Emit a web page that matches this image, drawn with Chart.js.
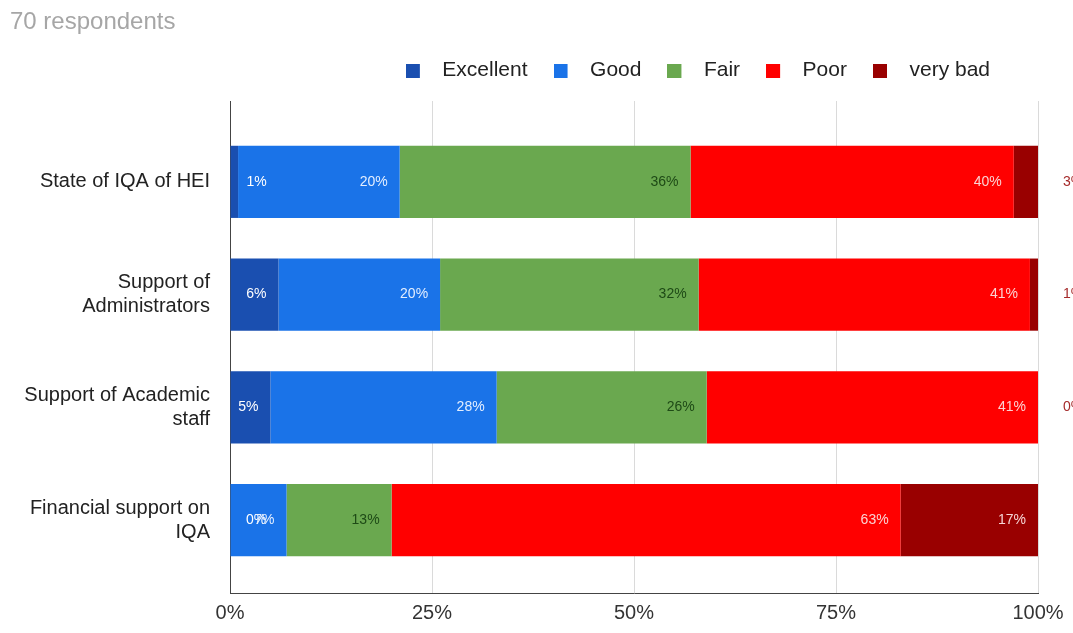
<!DOCTYPE html>
<html>
<head>
<meta charset="utf-8">
<script src="https://cdn.jsdelivr.net/npm/chart.js@4.4.1/dist/chart.umd.min.js"></script>
<style>
  html, body { margin: 0; padding: 0; background: #fff; }
  #wrap { width: 1073px; height: 633px; }
</style>
</head>
<body>
<div id="wrap"><canvas id="grafico"></canvas></div>
<script>
/* ===================== DADOS ===================== */
const titulo = '70 respondents';
const categorias = [
  ['State of IQA of HEI'],
  ['Support of', 'Administrators'],
  ['Support of Academic', 'staff'],
  ['Financial support on', 'IQA']
];
const series = ['Excellent', 'Good', 'Fair', 'Poor', 'very bad'];
const excellent = [1, 6, 5, 0];
const good      = [20, 20, 28, 7];
const fair      = [36, 32, 26, 13];
const poor      = [40, 41, 41, 63];
const veryBad   = [3, 1, 0, 17];
const xTicks    = [0, 25, 50, 75, 100];

/* ===================== ESTILO ===================== */
const FONTE = '"Liberation Sans", Arial, sans-serif';
const cores = ['#1a4fb0', '#1a73e8', '#6aa84f', '#ff0000', '#990000'];
const corRotulo = ['#ffffff', '#e3eeff', '#1e4a16', '#fbd3d3', '#f6d6d6'];
const valores = [excellent, good, fair, poor, veryBad];

// quadradinho da legenda com espaço extra à direita
function amostra(cor) {
  const c = document.createElement('canvas');
  c.width = 26; c.height = 14;
  const g = c.getContext('2d');
  g.fillStyle = cor;
  g.fillRect(0, 0, 14, 14);
  return c;
}
const amostras = cores.map(amostra);

/* ===================== RÓTULOS ===================== */
const rotulos = {
  id: 'rotulos',
  afterDatasetsDraw(chart) {
    const ctx = chart.ctx;
    const ultimo = chart.data.datasets.length - 1;
    ctx.save();
    ctx.font = '14px ' + FONTE;
    ctx.textBaseline = 'middle';
    chart.data.datasets.forEach((ds, di) => {
      const meta = chart.getDatasetMeta(di);
      meta.data.forEach((bar, i) => {
        const txt = ds.data[i].x + '%';
        const w = ctx.measureText(txt).width;
        const ini = Math.min(bar.base, bar.x);
        const fim = Math.max(bar.base, bar.x);
        let x, align = 'right', cor = corRotulo[di];
        if (fim - ini >= w + 16) {
          x = fim - 12;
        } else if (di === ultimo) {
          x = fim + 25; align = 'left'; cor = '#a52a2a';
        } else {
          x = ini + 16; align = 'left';
        }
        ctx.textAlign = align;
        ctx.fillStyle = cor;
        ctx.fillText(txt, x, bar.y);
      });
    });
    ctx.restore();
  }
};

// legenda um pouco mais à esquerda, como no original
const ajusteLegenda = {
  id: 'ajusteLegenda',
  afterLayout(chart) { chart.legend.right -= 22; }
};

/* ===================== GRÁFICO ===================== */
new Chart(document.getElementById('grafico'), {
  type: 'bar',
  data: {
    datasets: series.map((nome, k) => ({
      label: nome,
      data: categorias.map((_, i) => ({ x: valores[k][i], y: i })),
      backgroundColor: cores[k],
      borderWidth: 0,
      categoryPercentage: 0.8,
      barPercentage: 0.8
    }))
  },
  options: {
    indexAxis: 'y',
    responsive: true,
    maintainAspectRatio: false,
    animation: false,
    layout: { padding: { left: 10, right: 35, top: 0, bottom: 0 } },
    plugins: {
      title: {
        display: true,
        text: titulo,
        align: 'start',
        color: '#a6a6a6',
        font: { family: FONTE, size: 24, weight: 'normal', lineHeight: 1 },
        padding: { top: 10, bottom: 0 }
      },
      legend: {
        position: 'top',
        align: 'end',
        labels: {
          usePointStyle: true,
          pointStyleWidth: 26,
          color: '#222',
          font: { family: FONTE, size: 21 },
          padding: 26,
          generateLabels: chart =>
            Chart.defaults.plugins.legend.labels.generateLabels(chart)
              .map((l, i) => ({ ...l, pointStyle: amostras[i] }))
        }
      },
      tooltip: { enabled: false }
    },
    scales: {
      x: {
        type: 'linear',
        stacked: true,
        min: 0,
        max: 100,
        afterBuildTicks: s => { s.ticks = xTicks.map(v => ({ value: v })); },
        ticks: {
          color: '#333',
          padding: 8,
          font: { family: FONTE, size: 20 },
          callback: v => v + '%'
        },
        grid: { color: '#dadada', drawTicks: false },
        border: { color: '#444', width: 1 }
      },
      espaco: {
        type: 'linear',
        position: 'top',
        grid: { display: false },
        border: { display: false },
        ticks: { display: false },
        afterFit: s => { s.height = 10; }
      },
      y: {
        type: 'linear',
        stacked: true,
        reverse: true,
        offset: false,
        min: -0.717,
        max: 3.646,
        afterBuildTicks: s => {
          s.ticks = categorias.map((_, i) => ({ value: i }));
        },
        afterFit: s => { s.width = 220; },
        ticks: {
          color: '#222',
          padding: 12,
          font: { family: FONTE, size: 20, lineHeight: 1.2 },
          callback: v => categorias[v] || ''
        },
        grid: { display: false, offset: false },
        border: { color: '#444', width: 1 }
      }
    }
  },
  plugins: [rotulos, ajusteLegenda]
});
</script>
</body>
</html>
